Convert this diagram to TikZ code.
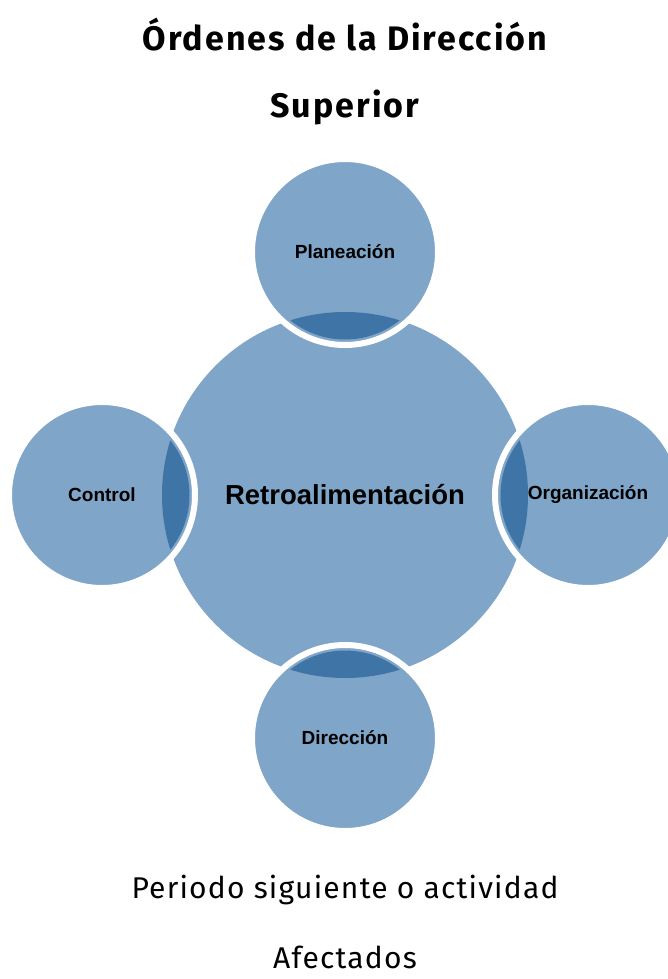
\documentclass[tikz,border=0pt]{standalone}
\usepackage{fontspec}
\setmainfont{Fira Sans}
\newfontfamily\titlefont{Fira Sans}[LetterSpace=6]
\newfontfamily\footfont{Fira Sans}[LetterSpace=4]
\newfontfamily\arialb{Liberation Sans}[BoldFont={* Bold}]
\definecolor{lightblue}{HTML}{7FA5C8}
\definecolor{darkblue}{HTML}{3F75A6}
\begin{document}
\begin{tikzpicture}[x=1pt,y=-1pt,
  sat/.style={circle,minimum size=186pt,inner sep=0pt,fill=lightblue,draw=white,line width=6pt,
    font=\arialb\bfseries\fontsize{19}{22}\selectfont},
  hub/.style={circle,minimum size=366pt,inner sep=0pt,fill=lightblue,
    font=\arialb\bfseries\fontsize{27.5}{32}\selectfont},
  titletext/.style={font=\titlefont\bfseries\fontsize{34}{40}\selectfont},
  foottext/.style={font=\footfont\fontsize{30}{36}\selectfont}]
\useasboundingbox[fill=white] (0,0) rectangle (668,979);
\node[titletext] (t1) at (345,35) {Órdenes de la Dirección};
\node[titletext] (t2) at (345,107) {Superior};
\node[hub] (hub) at (345,495) {Retroalimentación};
\node[sat] (plan) at (345,252) {Planeación};
\node[sat] (ctrl) at (102,495) {Control};
\node[sat] (org) at (588,495) {Organización};
\node[sat] (dir) at (345,738) {Dirección};
\begin{scope}
  \clip (345,495) circle (183);
  \fill[darkblue] (345,252) circle (87.5);
  \fill[darkblue] (102,495) circle (87.5);
  \fill[darkblue] (588,495) circle (87.5);
  \fill[darkblue] (345,738) circle (87.5);
\end{scope}
\node[foottext] (f1) at (345,890) {Periodo siguiente o actividad};
\node[foottext] (f2) at (345,957) {Afectados};
\end{tikzpicture}
\end{document}
